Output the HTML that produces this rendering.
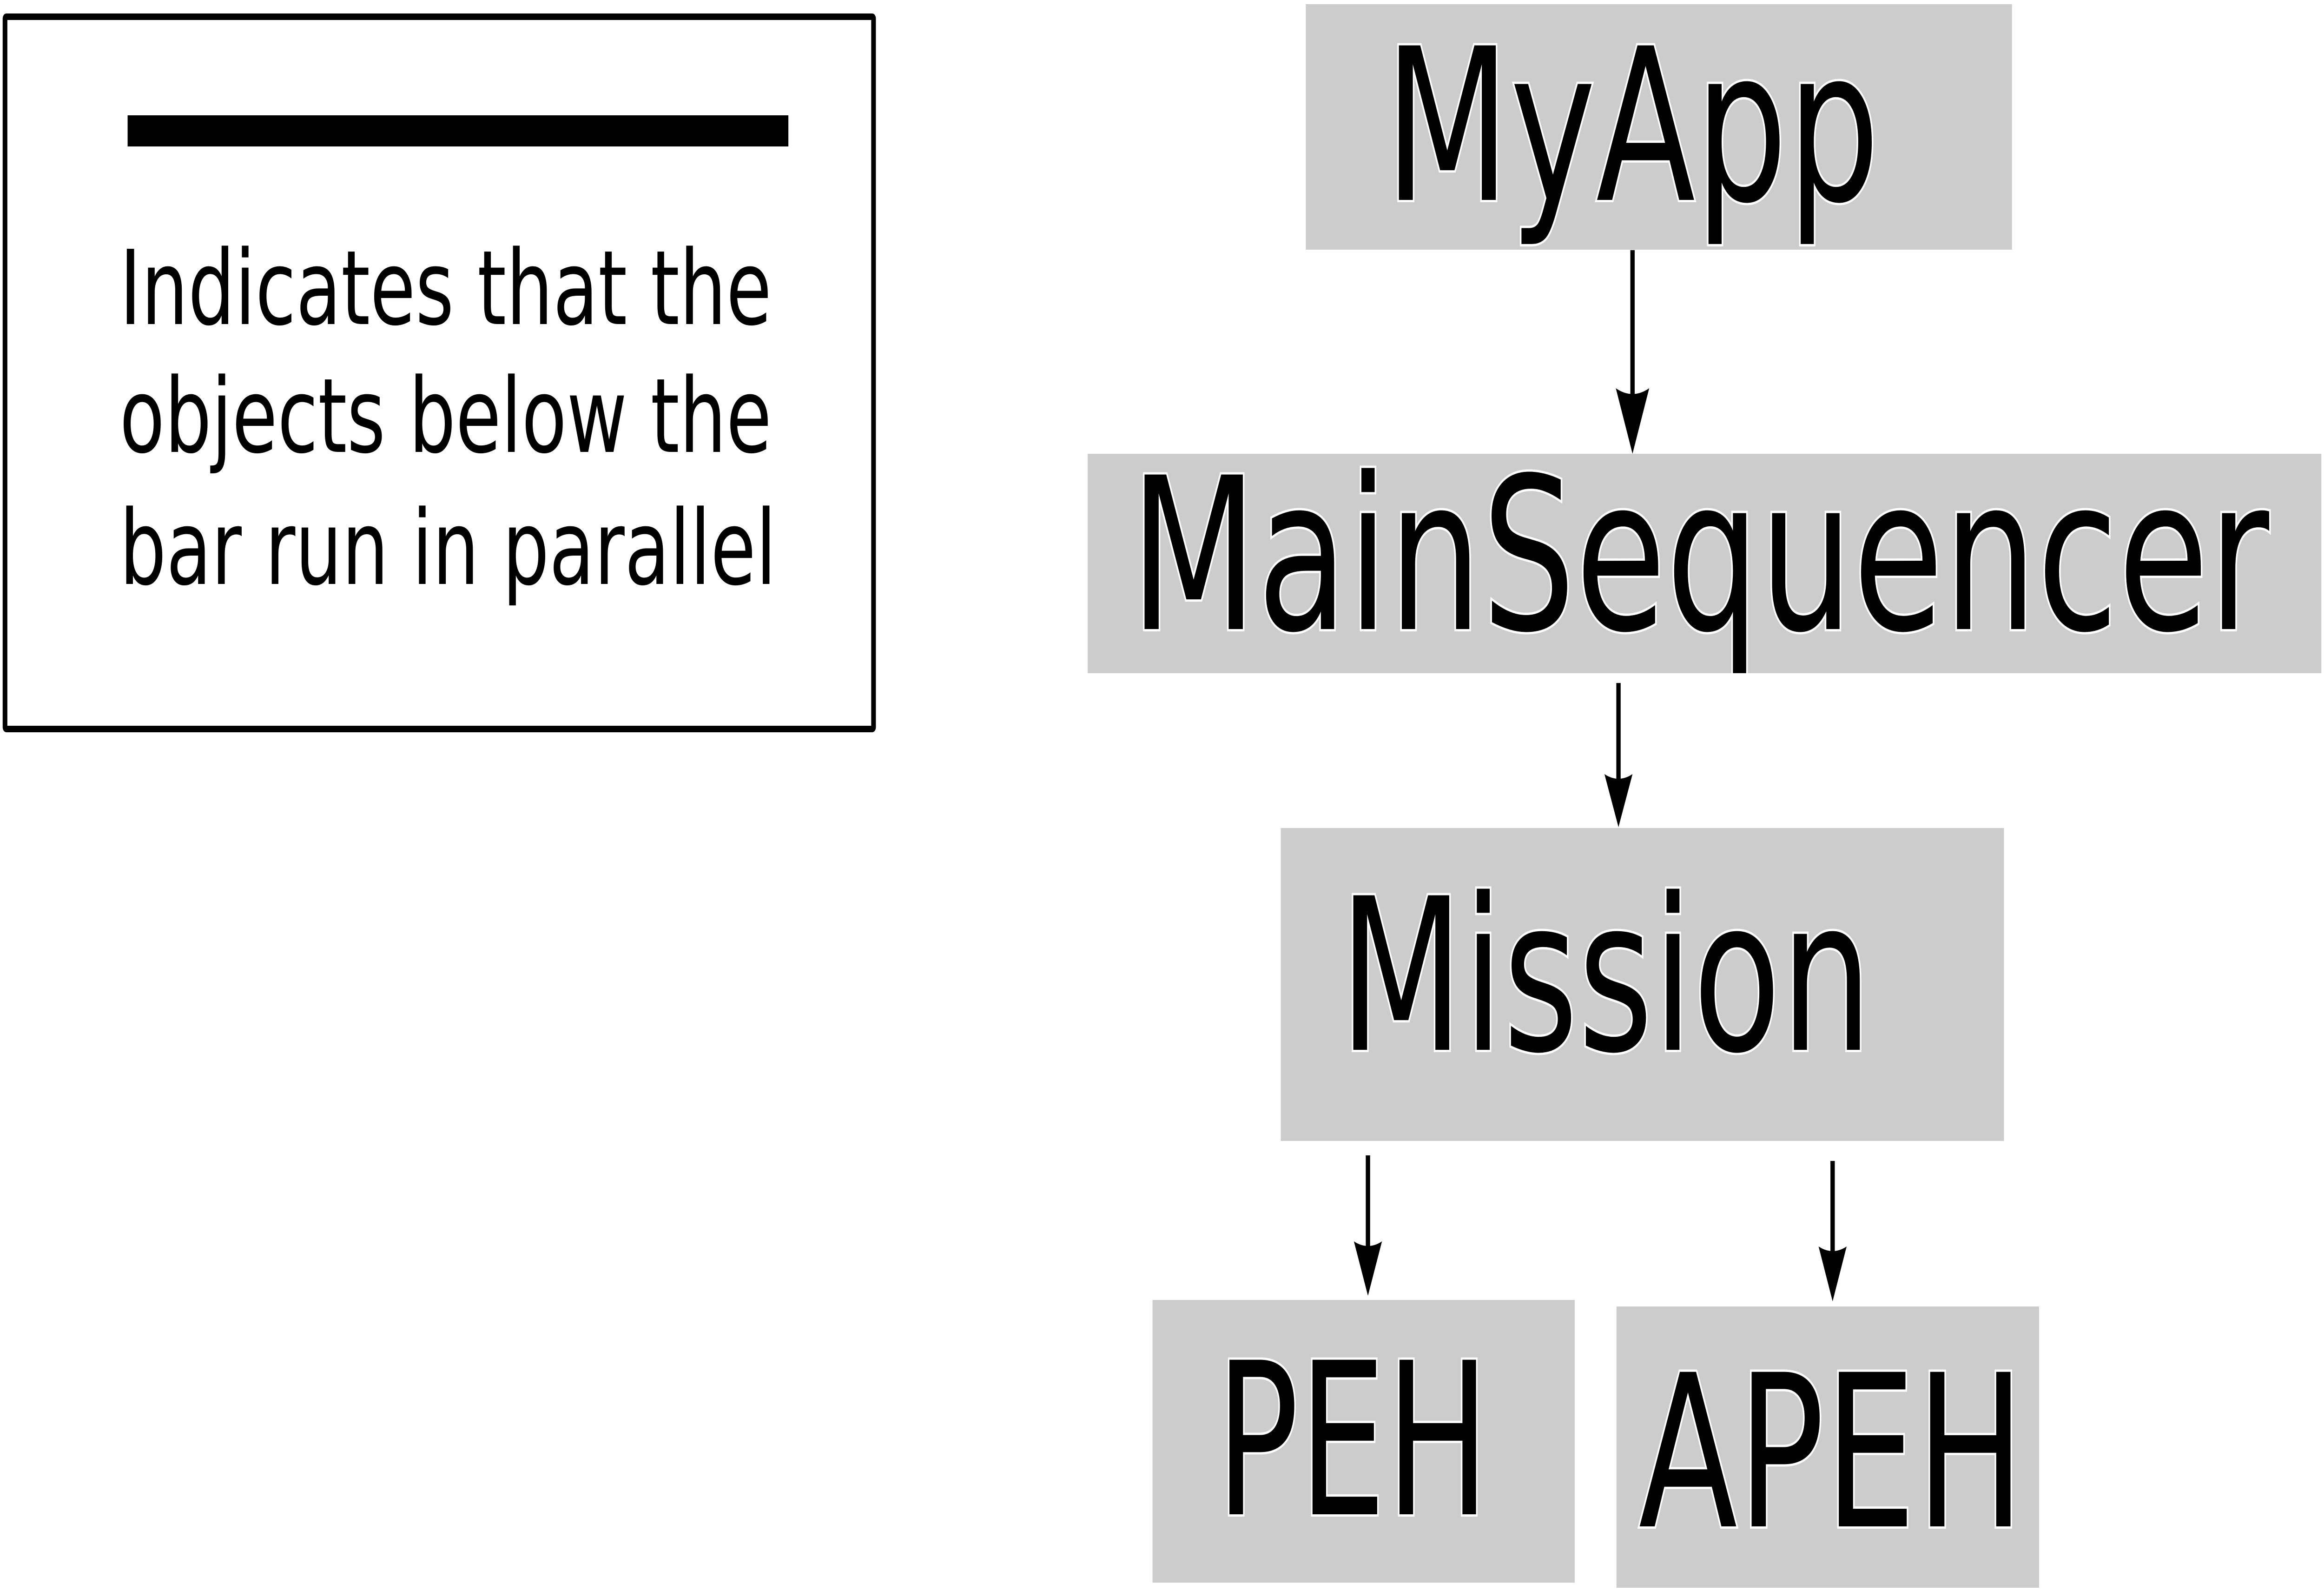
<!DOCTYPE html>
<html><head><meta charset="utf-8"><style>
html,body{margin:0;padding:0;background:#fff;overflow:hidden;width:100%;height:100%;}
svg{display:block;width:100vw;height:100vh;}
</style></head><body>
<svg viewBox="0 0 6957 3422" preserveAspectRatio="none" xmlns="http://www.w3.org/2000/svg">
<rect width="6957" height="3422" fill="#fff"/>
<!-- legend -->
<rect x="15" y="36" width="2600" height="1532" fill="#fff" stroke="#000" stroke-width="14" rx="4"/>
<rect x="382" y="248" width="1978" height="67" fill="#000"/>
<g font-family="'DejaVu Sans','Liberation Sans',sans-serif" font-size="222" fill="#000">
<text x="358" y="697" textLength="1952" lengthAdjust="spacingAndGlyphs">Indicates that the</text>
<text x="358" y="972" textLength="1952" lengthAdjust="spacingAndGlyphs">objects below the</text>
<text x="358" y="1256" textLength="1966" lengthAdjust="spacingAndGlyphs">bar run in parallel</text>
</g>
<!-- boxes -->
<g fill="#cccccc">
<rect x="3909" y="9" width="2114" height="528"/>
<rect x="3256" y="976" width="3693" height="472"/>
<rect x="3834" y="1781" width="2165" height="673"/>
<rect x="3450" y="2796" width="1264" height="608"/>
<rect x="4839" y="2810" width="1265" height="605"/>
</g>
<!-- arrows -->
<g stroke="#000" stroke-width="13" fill="none">
<line x1="4887" y1="538" x2="4887" y2="870"/>
<line x1="4845" y1="1469" x2="4845" y2="1700"/>
<line x1="4095" y1="2485" x2="4095" y2="2700"/>
<line x1="5486" y1="2497" x2="5486" y2="2710"/>
</g>
<g fill="#000">
<path d="M4837 835 Q4887 860 4937 835 L4887 976 Z"/>
<path d="M4803 1665 Q4845 1685 4887 1665 L4845 1779 Z"/>
<path d="M4053 2670 Q4095 2690 4137 2670 L4095 2787 Z"/>
<path d="M5444 2681 Q5486 2701 5528 2681 L5486 2799 Z"/>
</g>
<!-- labels -->
<g font-family="'DejaVu Sans','Liberation Sans',sans-serif" font-size="456" fill="#000" stroke="#fff" stroke-width="10" paint-order="stroke">
<text x="4145" y="430" textLength="1482" lengthAdjust="spacingAndGlyphs">MyApp</text>
<text x="3383" y="1353" textLength="3410" lengthAdjust="spacingAndGlyphs">MainSequencer</text>
<text x="4009" y="2258" textLength="1595" lengthAdjust="spacingAndGlyphs">Mission</text>
<text x="3640" y="3257" textLength="819" lengthAdjust="spacingAndGlyphs">PEH</text>
<text x="4905" y="3283" textLength="1156" lengthAdjust="spacingAndGlyphs">APEH</text>
</g>
</svg>
</body></html>
